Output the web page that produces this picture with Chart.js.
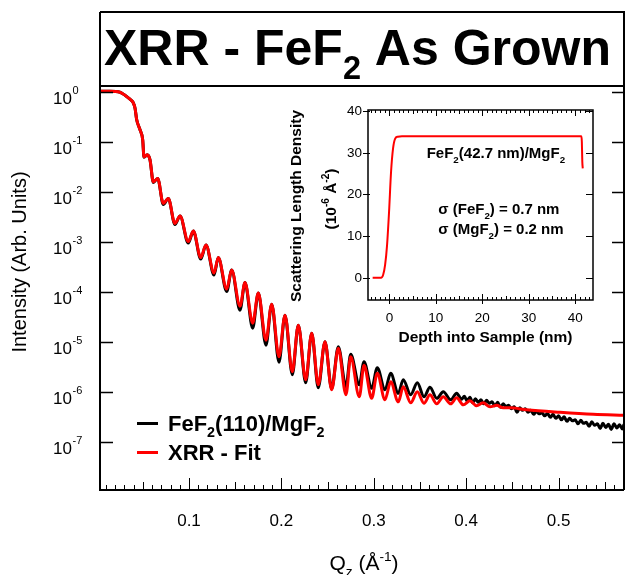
<!DOCTYPE html>
<html>
<head>
<meta charset="utf-8">
<script src="https://cdn.jsdelivr.net/npm/chart.js@4.4.1/dist/chart.umd.min.js"></script>
<style>
  body { margin: 0; background: #fff; }
  #wrap { position: relative; width: 625px; height: 575px; }
  #wrap canvas { position: absolute; left: 0; top: 0; }
</style>
</head>
<body>
<div id="wrap">
  <canvas id="mainChart" width="625" height="575"></canvas>
  <canvas id="insetChart" width="625" height="575"></canvas>
</div>
<script>
// XRR fit (red), Qz in 1/A, intensity as log10
const fitQ = [0.0045, 0.0145, 0.0253, 0.0307, 0.0361, 0.0394, 0.0416, 0.0434, 0.047, 0.0499,
  0.0513, 0.0549, 0.0578, 0.0614, 0.0661, 0.0722, 0.0776, 0.0848, 0.0903, 0.0992,
  0.1047, 0.1127, 0.1184, 0.1271, 0.1317, 0.1408, 0.1462, 0.1552, 0.1606, 0.1689,
  0.175, 0.1833, 0.1895, 0.1974, 0.2039, 0.2118, 0.2183, 0.2263, 0.2328, 0.2399,
  0.2472, 0.2544, 0.2616, 0.2699, 0.275, 0.2843, 0.2894, 0.2977, 0.3038, 0.3121,
  0.3183, 0.3265, 0.3319, 0.3399, 0.3471, 0.3543, 0.3608, 0.3681, 0.3752, 0.3832,
  0.3897, 0.3969, 0.404, 0.4112, 0.4183, 0.4258, 0.433, 0.44, 0.4474, 0.4655,
  0.5015, 0.5376, 0.5708];
const fitLogI = [0.01, 0.01, -0.01, -0.07, -0.15, -0.21, -0.33, -0.56, -0.76, -0.96,
  -1.30, -1.26, -1.36, -1.80, -1.73, -2.23, -2.13, -2.63, -2.48, -2.99,
  -2.78, -3.31, -3.06, -3.62, -3.31, -3.94, -3.56, -4.28, -3.81, -4.62,
  -4.02, -4.96, -4.24, -5.29, -4.46, -5.59, -4.66, -5.75, -4.82, -5.85,
  -4.99, -5.95, -5.12, -6.05, -5.29, -6.09, -5.46, -6.12, -5.62, -6.15,
  -5.79, -6.19, -5.89, -6.21, -5.99, -6.22, -6.05, -6.23, -6.09, -6.23,
  -6.11, -6.25, -6.17, -6.27, -6.21, -6.29, -6.26, -6.31, -6.31, -6.35,
  -6.40, -6.44, -6.46];

// measured data FeF2(110)/MgF2 (black)
const dataQ = [0.0045, 0.0145, 0.0253, 0.0307, 0.0361, 0.0394, 0.0416, 0.0434, 0.047, 0.0499,
  0.0513, 0.0549, 0.0578, 0.0614, 0.0661, 0.0722, 0.0776, 0.0848, 0.0903, 0.0992,
  0.1047, 0.1127, 0.1184, 0.1271, 0.1317, 0.1408, 0.1462, 0.1552, 0.1606, 0.1689,
  0.175, 0.1833, 0.1895, 0.1974, 0.2039, 0.2118, 0.2183, 0.2263, 0.2328, 0.2399,
  0.2472, 0.2544, 0.2616, 0.2699, 0.275, 0.2843, 0.2894, 0.2977, 0.3038, 0.3121,
  0.3183, 0.3265, 0.3319, 0.3399, 0.3471, 0.3543, 0.3608, 0.3681, 0.3752, 0.3832,
  0.3897, 0.395, 0.398, 0.401, 0.404, 0.407, 0.41, 0.413, 0.416, 0.419,
  0.422, 0.425, 0.428, 0.431, 0.434, 0.437, 0.44, 0.443, 0.446, 0.449,
  0.452, 0.455, 0.458, 0.461, 0.464, 0.467, 0.47, 0.473, 0.476, 0.479,
  0.482, 0.485, 0.488, 0.491, 0.494, 0.497, 0.5, 0.503, 0.506, 0.509,
  0.512, 0.515, 0.518, 0.521, 0.524, 0.527, 0.53, 0.533, 0.536, 0.539,
  0.542, 0.545, 0.548, 0.551, 0.554, 0.557, 0.56, 0.563, 0.566, 0.569, 0.5708];
const dataLogI = [0.01, 0.01, -0.01, -0.07, -0.15, -0.21, -0.33, -0.56, -0.76, -0.96,
  -1.31, -1.26, -1.36, -1.81, -1.73, -2.25, -2.13, -2.65, -2.48, -3.02,
  -2.78, -3.34, -3.06, -3.66, -3.31, -3.99, -3.56, -4.36, -3.81, -4.72,
  -4.02, -5.06, -4.24, -5.40, -4.46, -5.65, -4.66, -5.81, -4.82, -5.91,
  -4.99, -5.93, -5.09, -5.89, -5.24, -5.85, -5.39, -5.92, -5.51, -5.95,
  -5.62, -6.02, -5.75, -6.05, -5.81, -6.09, -5.90, -6.12, -5.99, -6.15,
  -6.02, -6.14, -6.08, -6.17, -6.10, -6.21, -6.13, -6.20, -6.15, -6.23,
  -6.16, -6.22, -6.19, -6.27, -6.20, -6.30, -6.23, -6.28, -6.26, -6.33,
  -6.29, -6.40, -6.31, -6.36, -6.33, -6.40, -6.36, -6.44, -6.38, -6.43,
  -6.41, -6.47, -6.42, -6.50, -6.44, -6.52, -6.47, -6.55, -6.49, -6.58,
  -6.52, -6.57, -6.55, -6.63, -6.56, -6.62, -6.60, -6.68, -6.59, -6.66,
  -6.63, -6.72, -6.62, -6.70, -6.64, -6.74, -6.63, -6.71, -6.65, -6.73, -6.64];

const yDecades = [0, -1, -2, -3, -4, -5, -6, -7];
const xTickLabels = ['0.1', '0.2', '0.3', '0.4', '0.5'];

// inset: SLD profile
const depthNm = [-3.6, -1.8, -1.35, -0.92, -0.5, -0.07, 0.36, 0.79, 1.22, 1.79, 2.7, 41.3, 41.4, 41.5, 41.6];
const sldValues = [0, 0, 0.65, 3.05, 7.8, 15.8, 25.4, 31.0, 33.3, 33.8, 33.9, 33.9, 32.6, 27.8, 26.2];
const insetXTicks = [0, 10, 20, 30, 40];
const insetYTicks = [0, 10, 20, 30, 40];

const FONT = '"Liberation Sans", Arial, Helvetica, sans-serif';

// draws a list of [text, mode] parts, mode 0 normal, 1 subscript, 2 superscript
function richText(ctx, x, y, parts, size, weight, align) {
  const small = size * 0.65;
  const widths = parts.map(([t, m]) => {
    ctx.font = `${weight} ${m ? small : size}px ${FONT}`;
    return ctx.measureText(t).width;
  });
  const total = widths.reduce((a, b) => a + b, 0);
  let cx = align === 'center' ? x - total / 2 : align === 'right' ? x - total : x;
  ctx.textAlign = 'left';
  ctx.textBaseline = 'alphabetic';
  parts.forEach(([t, m], i) => {
    ctx.font = `${weight} ${m ? small : size}px ${FONT}`;
    const dy = m === 1 ? size * 0.28 : m === 2 ? -size * 0.42 : 0;
    ctx.fillText(t, cx, y + dy);
    cx += widths[i];
  });
}

const mainDecor = {
  id: 'mainDecor',
  afterDraw(chart) {
    const ctx = chart.ctx;
    const { left, right, top, bottom } = chart.chartArea;
    const xs = chart.scales.x, ys = chart.scales.y;
    ctx.save();
    ctx.strokeStyle = '#000';
    ctx.fillStyle = '#000';
    ctx.lineWidth = 2;
    // frame + title box
    ctx.beginPath();
    ctx.moveTo(left, 12); ctx.lineTo(left, bottom); ctx.lineTo(right, bottom);
    ctx.moveTo(left, 12); ctx.lineTo(right, 12); ctx.lineTo(right, bottom);
    ctx.moveTo(left, top); ctx.lineTo(right, top);
    ctx.stroke();

    // y ticks (both sides, inward)
    ctx.lineWidth = 1.5;
    yDecades.forEach(n => {
      const py = Math.round(ys.getPixelForValue(Math.pow(10, n))) + 0.5;
      ctx.beginPath();
      ctx.moveTo(left, py); ctx.lineTo(left + 13, py);
      ctx.moveTo(right, py); ctx.lineTo(right - 12, py);
      ctx.stroke();
      ctx.textAlign = 'right';
      ctx.textBaseline = 'alphabetic';
      ctx.font = `17px ${FONT}`;
      ctx.fillText('10', 72, py + 11);
      ctx.textAlign = 'left';
      ctx.font = `11px ${FONT}`;
      ctx.fillText(n === 0 ? '0' : String(n), 72.5, py + 1.5);
    });

    // x ticks
    ctx.lineWidth = 1;
    for (let i = 1; i <= 57; i++) {
      const px = Math.round(xs.getPixelForValue(i / 100)) + 0.5;
      const len = i % 10 === 0 ? 12 : i % 5 === 0 ? 8 : 5;
      ctx.beginPath();
      ctx.moveTo(px, bottom); ctx.lineTo(px, bottom - len);
      ctx.stroke();
    }
    ctx.font = `17px ${FONT}`;
    ctx.textAlign = 'center';
    xTickLabels.forEach(t => {
      ctx.fillText(t, xs.getPixelForValue(parseFloat(t)), 526);
    });

    // axis titles
    richText(ctx, 364, 570, [['Q', 0], ['z', 1], [' (\u00C5', 0], ['-1', 2], [')', 0]], 21, 'normal', 'center');
    ctx.save();
    ctx.translate(26, 262);
    ctx.rotate(-Math.PI / 2);
    ctx.font = `20px ${FONT}`;
    ctx.textAlign = 'center';
    ctx.fillText('Intensity (Arb. Units)', 0, 0);
    ctx.restore();

    // title
    richText(ctx, 104, 65, [['XRR - FeF', 0], ['2', 1], [' As Grown', 0]], 50, 'bold', 'left');

    // legend
    ctx.lineWidth = 3;
    ctx.strokeStyle = '#000';
    ctx.beginPath(); ctx.moveTo(137, 423.5); ctx.lineTo(158, 423.5); ctx.stroke();
    ctx.strokeStyle = '#ff0000';
    ctx.beginPath(); ctx.moveTo(137, 452.5); ctx.lineTo(158, 452.5); ctx.stroke();
    richText(ctx, 168, 431, [['FeF', 0], ['2', 1], ['(110)/MgF', 0], ['2', 1]], 22, 'bold', 'left');
    richText(ctx, 168, 460, [['XRR - Fit', 0]], 22, 'bold', 'left');
    ctx.restore();
  }
};

new Chart(document.getElementById('mainChart').getContext('2d'), {
  type: 'line',
  data: {
    datasets: [
      {
        label: 'XRR - Fit',
        data: fitQ.map((q, i) => ({ x: q, y: Math.pow(10, fitLogI[i]) })),
        borderColor: '#ff0000',
        borderWidth: 3,
        order: 0
      },
      {
        label: 'FeF2(110)/MgF2',
        data: dataQ.map((q, i) => ({ x: q, y: Math.pow(10, dataLogI[i]) })),
        borderColor: '#000000',
        borderWidth: 3,
        order: 1
      }
    ]
  },
  options: {
    responsive: false,
    animation: false,
    layout: { padding: { top: 86, right: 1, left: 0, bottom: 0 } },
    elements: {
      point: { radius: 0 },
      line: { cubicInterpolationMode: 'monotone', borderJoinStyle: 'round' }
    },
    plugins: { legend: { display: false }, tooltip: { enabled: false } },
    scales: {
      x: {
        type: 'linear', min: 0.00368, max: 0.5708,
        ticks: { display: false }, grid: { display: false }, border: { display: false },
        afterFit: s => { s.height = 85; }
      },
      y: {
        type: 'logarithmic', min: Math.pow(10, -7.95), max: Math.pow(10, 0.114),
        ticks: { display: false }, grid: { display: false }, border: { display: false },
        afterFit: s => { s.width = 100; }
      }
    }
  },
  plugins: [mainDecor]
});

const insetDecor = {
  id: 'insetDecor',
  beforeDraw(chart) {
    const { left, right, top, bottom } = chart.chartArea;
    chart.ctx.fillStyle = '#fff';
    chart.ctx.fillRect(left, top, right - left, bottom - top);
  },
  afterDraw(chart) {
    const ctx = chart.ctx;
    const { left, right, top, bottom } = chart.chartArea;
    const xs = chart.scales.x, ys = chart.scales.y;
    ctx.save();
    ctx.strokeStyle = '#000';
    ctx.fillStyle = '#000';
    ctx.lineWidth = 1.5;
    ctx.strokeRect(left, top, right - left, bottom - top);
    ctx.lineWidth = 1;
    for (let d = -4; d <= 43; d++) {
      const px = Math.round(xs.getPixelForValue(d)) + 0.5;
      const len = d % 10 === 0 ? 6 : d % 5 === 0 ? 4 : 3;
      ctx.beginPath();
      ctx.moveTo(px, top); ctx.lineTo(px, top + len);
      ctx.moveTo(px, bottom); ctx.lineTo(px, bottom - len);
      if (d % 10 === 0) { ctx.moveTo(px, bottom); ctx.lineTo(px, bottom + 4); }
      ctx.stroke();
    }
    ctx.font = `13.5px ${FONT}`;
    ctx.textAlign = 'center';
    ctx.textBaseline = 'alphabetic';
    insetXTicks.forEach(v => ctx.fillText(String(v), xs.getPixelForValue(v), 321.5));
    ctx.textAlign = 'right';
    ctx.textBaseline = 'middle';
    insetYTicks.forEach(v => {
      const py = Math.round(ys.getPixelForValue(v)) + 0.5;
      ctx.beginPath();
      ctx.moveTo(left - 5, py); ctx.lineTo(left + 2, py);
      ctx.moveTo(right, py); ctx.lineTo(right - 7, py);
      ctx.stroke();
      ctx.fillText(String(v), 362, py);
    });
    ctx.textBaseline = 'alphabetic';
    richText(ctx, 485.5, 341.5, [['Depth into Sample (nm)', 0]], 15.5, 'bold', 'center');
    ctx.save();
    ctx.translate(301, 206);
    ctx.rotate(-Math.PI / 2);
    richText(ctx, 0, 0, [['Scattering Length Density', 0]], 15.5, 'bold', 'center');
    richText(ctx, 7, 35, [['(10', 0], ['-6', 2], [' \u00C5', 0], ['-2', 2], [')', 0]], 15.5, 'bold', 'center');
    ctx.restore();
    richText(ctx, 426.7, 158.3, [['FeF', 0], ['2', 1], ['(42.7 nm)/MgF', 0], ['2', 1]], 15, 'bold', 'left');
    richText(ctx, 438.3, 214.3, [['\u03C3 (FeF', 0], ['2', 1], [') = 0.7 nm', 0]], 15, 'bold', 'left');
    richText(ctx, 438.3, 234.3, [['\u03C3 (MgF', 0], ['2', 1], [') = 0.2 nm', 0]], 15, 'bold', 'left');
    ctx.restore();
  }
};

new Chart(document.getElementById('insetChart').getContext('2d'), {
  type: 'line',
  data: {
    datasets: [{
      label: 'SLD',
      data: depthNm.map((d, i) => ({ x: d, y: sldValues[i] })),
      borderColor: '#ff0000',
      borderWidth: 2
    }]
  },
  options: {
    responsive: false,
    animation: false,
    layout: { padding: { top: 110, left: 368, right: 32, bottom: 275 } },
    elements: { point: { radius: 0 }, line: { cubicInterpolationMode: 'monotone' } },
    plugins: { legend: { display: false }, tooltip: { enabled: false } },
    scales: {
      x: {
        type: 'linear', min: -4.6, max: 43.8,
        ticks: { display: false }, grid: { display: false }, border: { display: false },
        afterFit: s => { s.height = 0; }
      },
      y: {
        type: 'linear', min: -5.35, max: 40.2,
        ticks: { display: false }, grid: { display: false }, border: { display: false },
        afterFit: s => { s.width = 0; }
      }
    }
  },
  plugins: [insetDecor]
});
</script>
</body>
</html>
